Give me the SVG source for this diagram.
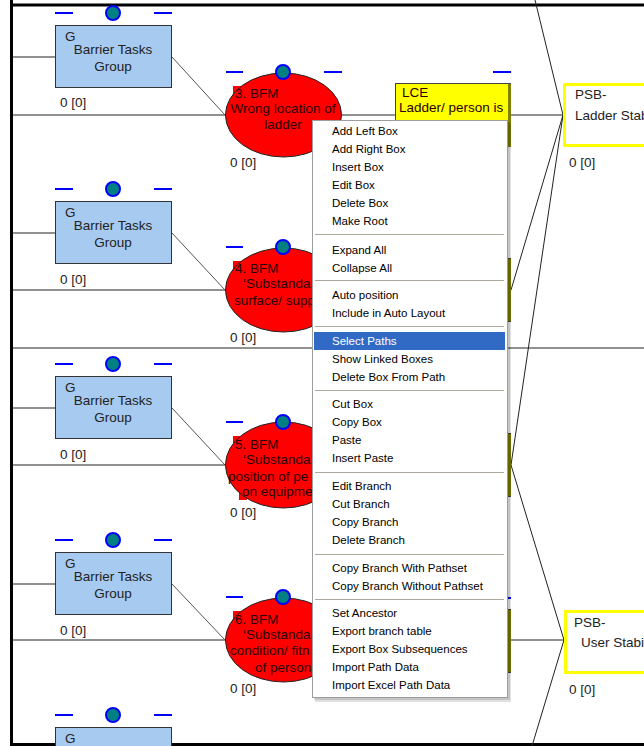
<svg xmlns="http://www.w3.org/2000/svg" width="644" height="746" viewBox="0 0 644 746">
<style>
.ln{stroke:#222;stroke-width:1;fill:none}
.dg{stroke:#555;stroke-width:1;fill:none}
.bb{fill:#a6caf0;stroke:#333;stroke-width:1}
.el{fill:#ff0000;stroke:#222;stroke-width:1}
.yb{fill:#ffff00;stroke:#444;stroke-width:1}
.yr{stroke:#808000;stroke-width:3}
.psb{fill:#fff;stroke:#ffff00;stroke-width:3}
.da{stroke:#0000ff;stroke-width:2}
.dot{fill:#008080;stroke:#0000ff;stroke-width:2}
.t{font-family:"Liberation Sans",Arial,sans-serif;font-size:13.5px;fill:#222}
.et{font-family:"Liberation Sans",Arial,sans-serif;font-size:13.5px;fill:#2a0000}
.c{text-anchor:middle}
.m{font-family:"Liberation Sans",Arial,sans-serif;font-size:11.5px;fill:#000}
.sep{stroke:#aca899;stroke-width:1}
</style>
<rect width="644" height="746" fill="#fff"/>
<g id="frame" stroke="#000" stroke-width="3" fill="none">
<line x1="11.5" y1="0" x2="11.5" y2="746"/>
<line x1="10" y1="5" x2="644" y2="5"/>
<line x1="10" y1="744.5" x2="644" y2="744.5"/>
</g>
<g id="connectors">
<line class="ln" x1="13" y1="57" x2="55" y2="57"/>
<line class="ln" x1="13" y1="233" x2="55" y2="233"/>
<line class="ln" x1="13" y1="408" x2="55" y2="408"/>
<line class="ln" x1="13" y1="584" x2="55" y2="584"/>
<line class="ln" x1="13" y1="115" x2="395" y2="115"/>
<line class="ln" x1="13" y1="290" x2="395" y2="290"/>
<line class="ln" x1="13" y1="465" x2="395" y2="465"/>
<line class="ln" x1="13" y1="640" x2="395" y2="640"/>
<line class="ln" x1="13" y1="348" x2="644" y2="348" stroke="#444"/>
<line class="dg" x1="172" y1="57" x2="225" y2="115"/>
<line class="dg" x1="172" y1="233" x2="225" y2="290"/>
<line class="dg" x1="172" y1="408" x2="225" y2="465"/>
<line class="dg" x1="172" y1="584" x2="225" y2="640"/>
<line class="ln" x1="511" y1="115" x2="563" y2="115"/>
<line class="ln" x1="511" y1="290" x2="563" y2="115"/>
<line class="ln" x1="511" y1="465" x2="563" y2="115"/>
<line class="ln" x1="535" y1="0" x2="563" y2="115"/>
<line class="ln" x1="511" y1="640" x2="564" y2="640"/>
<line class="ln" x1="511" y1="465" x2="564" y2="640"/>
<line class="ln" x1="564" y1="640" x2="532" y2="746"/>
</g>
<g id="g1">
<line class="da" x1="55" y1="13" x2="73" y2="13"/><line class="da" x1="154" y1="13" x2="172" y2="13"/>
<circle class="dot" cx="113" cy="13" r="7"/>
<rect class="bb" x="55.5" y="25.5" width="116" height="62"/>
<text class="t" x="65" y="41">G</text>
<text class="t c" x="113" y="54">Barrier Tasks</text>
<text class="t c" x="113" y="71">Group</text>
<text class="t" x="60" y="107">0 [0]</text>
</g>
<g id="g2">
<line class="da" x1="55" y1="189" x2="73" y2="189"/><line class="da" x1="154" y1="189" x2="172" y2="189"/>
<circle class="dot" cx="113" cy="189" r="7"/>
<rect class="bb" x="55.5" y="201.5" width="116" height="62"/>
<text class="t" x="65" y="217">G</text>
<text class="t c" x="113" y="230">Barrier Tasks</text>
<text class="t c" x="113" y="247">Group</text>
<text class="t" x="60" y="284">0 [0]</text>
</g>
<g id="g3">
<line class="da" x1="55" y1="364" x2="73" y2="364"/><line class="da" x1="154" y1="364" x2="172" y2="364"/>
<circle class="dot" cx="113" cy="364" r="7"/>
<rect class="bb" x="55.5" y="376.5" width="116" height="62"/>
<text class="t" x="65" y="392">G</text>
<text class="t c" x="113" y="405">Barrier Tasks</text>
<text class="t c" x="113" y="422">Group</text>
<text class="t" x="60" y="459">0 [0]</text>
</g>
<g id="g4">
<line class="da" x1="55" y1="540" x2="73" y2="540"/><line class="da" x1="154" y1="540" x2="172" y2="540"/>
<circle class="dot" cx="113" cy="540" r="7"/>
<rect class="bb" x="55.5" y="552.5" width="116" height="62"/>
<text class="t" x="65" y="568">G</text>
<text class="t c" x="113" y="581">Barrier Tasks</text>
<text class="t c" x="113" y="598">Group</text>
<text class="t" x="60" y="635">0 [0]</text>
</g>
<g id="g5">
<line class="da" x1="55" y1="715" x2="73" y2="715"/><line class="da" x1="154" y1="715" x2="172" y2="715"/>
<circle class="dot" cx="113" cy="715" r="7"/>
<rect class="bb" x="55.5" y="727.5" width="116" height="20"/>
<text class="t" x="65" y="743">G</text>
</g>
<g id="bfm3">
<rect x="233" y="86" width="12" height="10" fill="#ff0000"/>
<ellipse class="el" cx="283.5" cy="115" rx="58" ry="42"/>
<line class="da" x1="226" y1="72" x2="243" y2="72"/><line class="da" x1="324" y1="72" x2="342" y2="72"/>
<circle class="dot" cx="283" cy="72" r="7"/>
<text class="et" x="235" y="98">3. BFM</text>
<text class="et c" x="283" y="113">Wrong location of</text>
<text class="et c" x="283" y="129">ladder</text>
<text class="t" x="230" y="167">0 [0]</text>
</g>
<g id="bfm4">
<rect x="233" y="261" width="12" height="10" fill="#ff0000"/>
<ellipse class="el" cx="283.5" cy="290" rx="58" ry="42"/>
<line class="da" x1="226" y1="247" x2="243" y2="247"/><line class="da" x1="324" y1="247" x2="342" y2="247"/>
<circle class="dot" cx="283" cy="247" r="7"/>
<text class="et" x="235" y="273">4. BFM</text>
<text class="et" x="243" y="288">‘Substanda</text>
<text class="et" x="234" y="305">surface/ supp</text>
<text class="t" x="230" y="342">0 [0]</text>
</g>
<g id="bfm5">
<rect x="233" y="436" width="12" height="10" fill="#ff0000"/>
<rect x="239" y="492" width="8" height="8" fill="#ff0000"/>
<ellipse class="el" cx="283.5" cy="465" rx="58" ry="43"/>
<line class="da" x1="226" y1="422" x2="243" y2="422"/><line class="da" x1="324" y1="422" x2="342" y2="422"/>
<circle class="dot" cx="283" cy="422" r="7"/>
<text class="et" x="235" y="449">5. BFM</text>
<text class="et" x="243" y="464">‘Substanda</text>
<text class="et" x="228" y="481">position of pe</text>
<text class="et" x="242" y="496">on equipme</text>
<text class="t" x="230" y="517">0 [0]</text>
</g>
<g id="bfm6">
<rect x="233" y="611" width="12" height="10" fill="#ff0000"/>
<ellipse class="el" cx="283.5" cy="640" rx="58" ry="42"/>
<line class="da" x1="226" y1="597" x2="243" y2="597"/><line class="da" x1="324" y1="597" x2="342" y2="597"/>
<circle class="dot" cx="283" cy="597" r="7"/>
<text class="et" x="235" y="624">6. BFM</text>
<text class="et" x="243" y="639">‘Substanda</text>
<text class="et" x="230" y="655">condition/ fitn</text>
<text class="et" x="255" y="672">of person</text>
<text class="t" x="230" y="693">0 [0]</text>
</g>
<g id="lce1">
<line class="da" x1="493" y1="72" x2="511" y2="72"/>
<rect class="yb" x="395.5" y="83.5" width="115" height="63"/>
<line class="yr" x1="509.5" y1="84" x2="509.5" y2="147"/>
<text class="et" x="402" y="97">LCE</text>
<text class="et" x="399" y="112">Ladder/ person is</text>
</g>
<g id="lce2">
<rect class="yb" x="395.5" y="258.5" width="115" height="63"/>
<line class="yr" x1="509.5" y1="259" x2="509.5" y2="321"/>
</g>
<g id="lce3">
<rect class="yb" x="395.5" y="433.5" width="115" height="63"/>
<line class="yr" x1="509.5" y1="434" x2="509.5" y2="496"/>
</g>
<g id="lce4">
<line class="da" x1="493" y1="598" x2="511" y2="598"/>
<rect class="yb" x="395.5" y="609.5" width="115" height="63"/>
<line class="yr" x1="509.5" y1="610" x2="509.5" y2="672"/>
</g>
<g id="psb1">
<rect class="psb" x="564.5" y="84.5" width="90" height="61"/>
<text class="t" x="575" y="99">PSB-</text>
<text class="t" x="575" y="120">Ladder Stab</text>
<text class="t" x="569" y="167">0 [0]</text>
</g>
<g id="psb2">
<rect class="psb" x="565.5" y="611.5" width="90" height="61"/>
<text class="t" x="574" y="627">PSB-</text>
<text class="t" x="581" y="647">User Stabi</text>
<text class="t" x="569" y="694">0 [0]</text>
</g>
<g id="context-menu">
<rect x="315" y="123" width="196" height="579" fill="#000" opacity="0.12"/>
<rect x="314" y="122" width="196" height="578" fill="#000" opacity="0.12"/>
<rect x="312.5" y="120.5" width="195" height="577" fill="#fff" stroke="#9d9d9d"/>
<line class="sep" x1="315" y1="234.5" x2="504" y2="234.5"/>
<line class="sep" x1="315" y1="280.5" x2="504" y2="280.5"/>
<line class="sep" x1="315" y1="326.5" x2="504" y2="326.5"/>
<line class="sep" x1="315" y1="390.5" x2="504" y2="390.5"/>
<line class="sep" x1="315" y1="472.5" x2="504" y2="472.5"/>
<line class="sep" x1="315" y1="554.5" x2="504" y2="554.5"/>
<line class="sep" x1="315" y1="599.5" x2="504" y2="599.5"/>
<rect x="314" y="332" width="191" height="18" fill="#316ac5"/>
<text class="m" x="332" y="135">Add Left Box</text>
<text class="m" x="332" y="153">Add Right Box</text>
<text class="m" x="332" y="171">Insert Box</text>
<text class="m" x="332" y="189">Edit Box</text>
<text class="m" x="332" y="207">Delete Box</text>
<text class="m" x="332" y="225">Make Root</text>
<text class="m" x="332" y="254">Expand All</text>
<text class="m" x="332" y="272">Collapse All</text>
<text class="m" x="332" y="299">Auto position</text>
<text class="m" x="332" y="317">Include in Auto Layout</text>
<text class="m" x="332" y="345" fill="#fff" style="fill:#fff">Select Paths</text>
<text class="m" x="332" y="363">Show Linked Boxes</text>
<text class="m" x="332" y="381">Delete Box From Path</text>
<text class="m" x="332" y="408">Cut Box</text>
<text class="m" x="332" y="426">Copy Box</text>
<text class="m" x="332" y="444">Paste</text>
<text class="m" x="332" y="462">Insert Paste</text>
<text class="m" x="332" y="490">Edit Branch</text>
<text class="m" x="332" y="508">Cut Branch</text>
<text class="m" x="332" y="526">Copy Branch</text>
<text class="m" x="332" y="544">Delete Branch</text>
<text class="m" x="332" y="572">Copy Branch With Pathset</text>
<text class="m" x="332" y="590">Copy Branch Without Pathset</text>
<text class="m" x="332" y="617">Set Ancestor</text>
<text class="m" x="332" y="635">Export branch table</text>
<text class="m" x="332" y="653">Export Box Subsequences</text>
<text class="m" x="332" y="671">Import Path Data</text>
<text class="m" x="332" y="689">Import Excel Path Data</text>
</g>
</svg>
